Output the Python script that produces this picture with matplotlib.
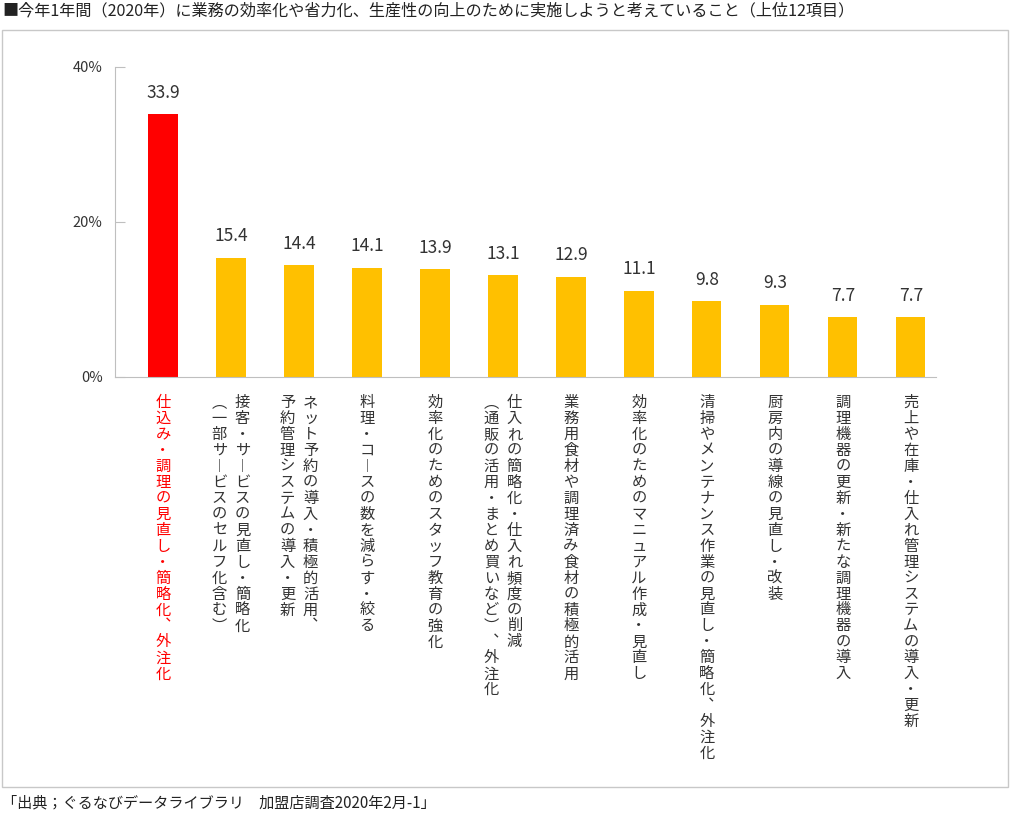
import numpy as np
import matplotlib
matplotlib.use("Agg")
import matplotlib.pyplot as plt
from matplotlib.patches import Rectangle

plt.rcParams['font.family'] = ['Noto Sans CJK JP', 'DejaVu Sans']

title = "■今年1年間（2020年）に業務の効率化や省力化、生産性の向上のために実施しようと考えていること（上位12項目）"
source = "「出典；ぐるなびデータライブラリ　加盟店調査2020年2月-1」"

values = [33.9, 15.4, 14.4, 14.1, 13.9, 13.1, 12.9, 11.1, 9.8, 9.3, 7.7, 7.7]
labels = [
    ["仕込み・調理の見直し・簡略化、外注化"],
    ["接客・サービスの見直し・簡略化", "（一部サービスのセルフ化含む）"],
    ["ネット予約の導入・積極的活用、", "予約管理システムの導入・更新"],
    ["料理・コースの数を減らす・絞る"],
    ["効率化のためのスタッフ教育の強化"],
    ["仕入れの簡略化・仕入れ頻度の削減", "（通販の活用・まとめ買いなど）、外注化"],
    ["業務用食材や調理済み食材の積極的活用"],
    ["効率化のためのマニュアル作成・見直し"],
    ["清掃やメンテナンス作業の見直し・簡略化、外注化"],
    ["厨房内の導線の見直し・改装"],
    ["調理機器の更新・新たな調理機器の導入"],
    ["売上や在庫・仕入れ管理システムの導入・更新"],
]
yticks = [0, 20, 40]
ytick_labels = ["0%", "20%", "40%"]

RED = "#ff0000"
YELLOW = "#ffc000"
TEXT = "#333333"
GRAY = "#bfbfbf"

# vertical writing: swap characters for their vertical forms
vert_map = {"ー": "︱", "、": "︑", "（": "︵", "）": "︶"}


def tate(s):
    return "\n".join(vert_map.get(c, c) for c in s)


fig = plt.figure(figsize=(10.1, 8.17), dpi=100)
ax = fig.add_axes([0.1139, 0.5386, 0.8128, 0.3794])

x = np.arange(len(values))
colors = [RED] + [YELLOW] * (len(values) - 1)
ax.bar(x, values, width=0.43, color=colors, zorder=2)

for xi, v in zip(x, values):
    ax.annotate(f"{v:.1f}", (xi, v), xytext=(0, 9), textcoords="offset points",
                ha="center", va="bottom", fontsize=12.5, color=TEXT)

ax.set_xlim(-0.706, 11.37)
ax.set_ylim(0, 40)
ax.set_yticks(yticks)
ax.set_yticklabels(ytick_labels, fontsize=10.5, color=TEXT)
ax.set_xticks([])
ax.tick_params(axis="y", direction="in", length=7, color=GRAY, pad=9)
for side in ["top", "right"]:
    ax.spines[side].set_visible(False)
ax.spines["left"].set_color(GRAY)
ax.spines["bottom"].set_color(GRAY)

# vertical category labels under the bars (columns read right to left)
for i, cols in enumerate(labels):
    n = len(cols)
    col_color = RED if i == 0 else TEXT
    for j, line in enumerate(cols):
        dx = 0.0 if n == 1 else (0.17 if j == 0 else -0.17)
        ax.text(i + dx, -0.055, tate(line), transform=ax.get_xaxis_transform(),
                ha="center", va="top", fontsize=11, linespacing=0.92,
                color=col_color)

fig.text(2 / 1010, 1 - 11 / 817, title, ha="left", va="center", fontsize=11.6, color="#222222")
fig.text(2 / 1010, 1 - 803 / 817, source, ha="left", va="center", fontsize=10.9, color="#222222")

fig.patches.append(Rectangle((2 / 1010, 1 - 787 / 817), 1006 / 1010, 757 / 817,
                             transform=fig.transFigure, fill=False,
                             edgecolor="#c8c8c8", linewidth=1))

fig.savefig("out.png", dpi=100)
